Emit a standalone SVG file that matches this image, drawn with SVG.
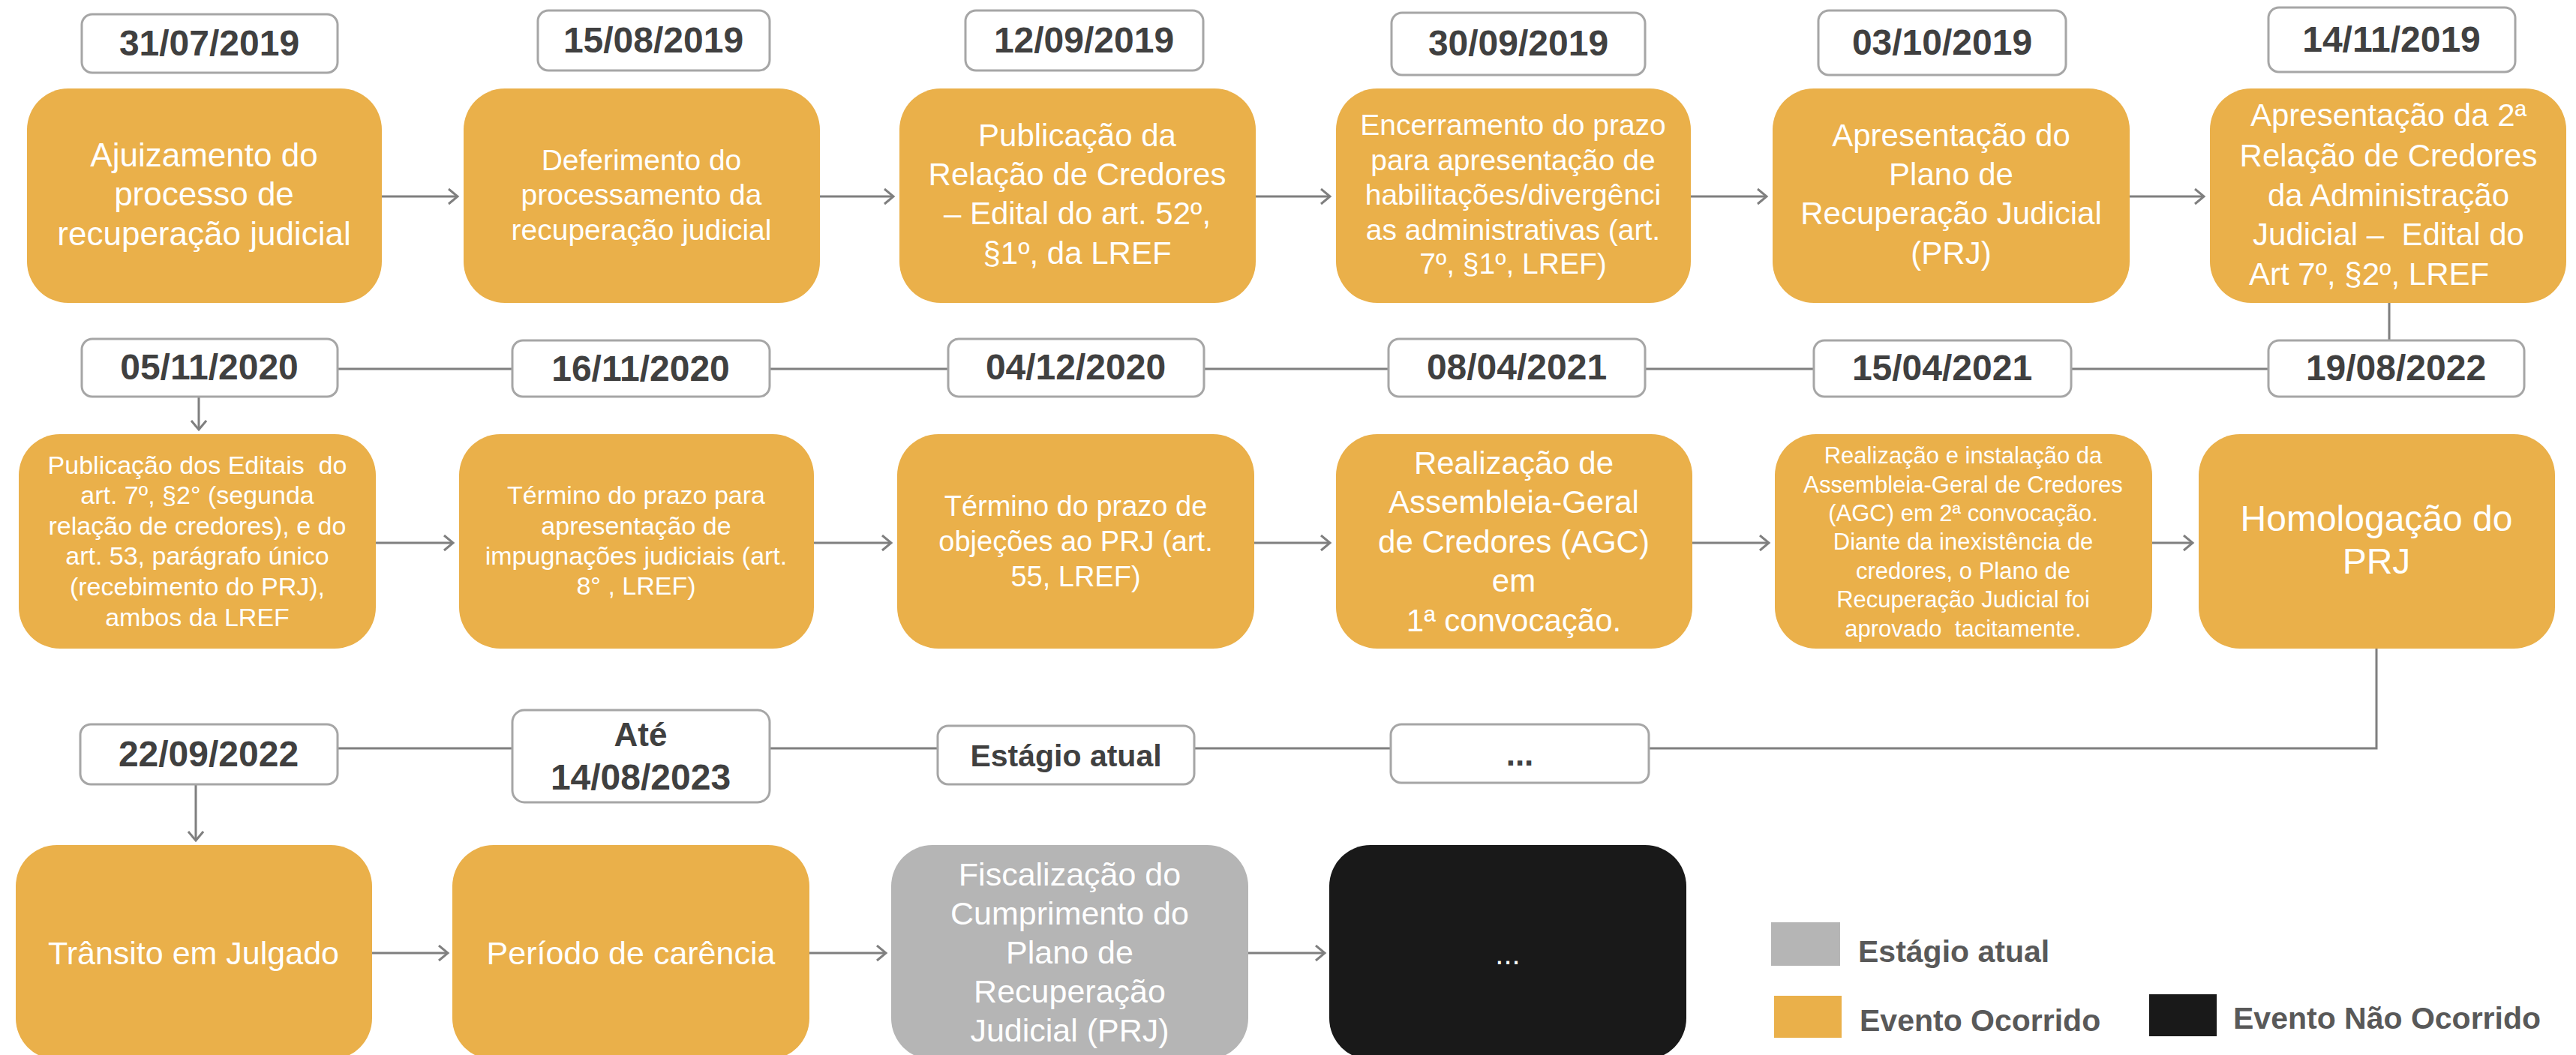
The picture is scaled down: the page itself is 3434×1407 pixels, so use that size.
<svg xmlns="http://www.w3.org/2000/svg" width="3434" height="1407" viewBox="0 0 3434 1407">
<style>
.node{fill:#EAB04A}
.cur{fill:#B5B5B5}
.nao{fill:#191919}
.date{fill:#FFFFFF;stroke:#A6A6A6;stroke-width:3}
.dt{font-family:"Liberation Sans",Arial,sans-serif;font-weight:bold;fill:#404040;text-anchor:middle}
.nt{font-family:"Liberation Sans",Arial,sans-serif;fill:#FFFFFF;text-anchor:middle}
.lg{font-family:"Liberation Sans",Arial,sans-serif;font-weight:bold;fill:#595959}
.con{fill:none;stroke:#7F7F7F;stroke-width:3}
</style>
<defs>
<marker id="arr" markerUnits="userSpaceOnUse" markerWidth="16" markerHeight="24" refX="13" refY="11" orient="auto">
<path d="M1,1 L13,11 L1,21" fill="none" stroke="#7F7F7F" stroke-width="3"/>
</marker>
</defs>
<rect width="3434" height="1407" fill="#FFFFFF"/>
<g id="connectors">
<path class="con" d="M509 262 H610" marker-end="url(#arr)"/>
<path class="con" d="M1093 262 H1191" marker-end="url(#arr)"/>
<path class="con" d="M1674 262 H1773" marker-end="url(#arr)"/>
<path class="con" d="M2254 262 H2355" marker-end="url(#arr)"/>
<path class="con" d="M2839 262 H2938" marker-end="url(#arr)"/>
<path class="con" d="M3185 404 V492 H265 V573" marker-end="url(#arr)"/>
<path class="con" d="M501 724 H604" marker-end="url(#arr)"/>
<path class="con" d="M1085 724 H1188" marker-end="url(#arr)"/>
<path class="con" d="M1672 724 H1773" marker-end="url(#arr)"/>
<path class="con" d="M2256 724 H2358" marker-end="url(#arr)"/>
<path class="con" d="M2869 724 H2923" marker-end="url(#arr)"/>
<path class="con" d="M3168 865 V998 H261 V1121" marker-end="url(#arr)"/>
<path class="con" d="M496 1271 H597" marker-end="url(#arr)"/>
<path class="con" d="M1079 1271 H1181" marker-end="url(#arr)"/>
<path class="con" d="M1664 1271 H1766" marker-end="url(#arr)"/>
</g>
<!-- Row 1 dates -->
<g id="d1"><rect class="date" x="109" y="19" width="341" height="78" rx="14"/><text class="dt" x="279" y="74" font-size="48">31/07/2019</text></g>
<g id="d2"><rect class="date" x="717" y="14" width="309" height="80" rx="14"/><text class="dt" x="871" y="70" font-size="48">15/08/2019</text></g>
<g id="d3"><rect class="date" x="1287" y="14" width="317" height="80" rx="14"/><text class="dt" x="1445" y="70" font-size="48">12/09/2019</text></g>
<g id="d4"><rect class="date" x="1855" y="17" width="338" height="83" rx="14"/><text class="dt" x="2024" y="74" font-size="48">30/09/2019</text></g>
<g id="d5"><rect class="date" x="2424" y="14" width="330" height="86" rx="14"/><text class="dt" x="2589" y="73" font-size="48">03/10/2019</text></g>
<g id="d6"><rect class="date" x="3024" y="10" width="329" height="86" rx="14"/><text class="dt" x="3188" y="69" font-size="48">14/11/2019</text></g>
<!-- Row 1 nodes -->
<g id="n1"><rect class="node" x="36" y="118" width="473" height="286" rx="55"/>
<text class="nt" font-size="44"><tspan x="272" y="222">Ajuizamento do</tspan><tspan x="272" y="274">processo de</tspan><tspan x="272" y="327">recuperação judicial</tspan></text></g>
<g id="n2"><rect class="node" x="618" y="118" width="475" height="286" rx="55"/>
<text class="nt" font-size="39"><tspan x="855" y="227">Deferimento do</tspan><tspan x="855" y="273">processamento da</tspan><tspan x="855" y="320">recuperação judicial</tspan></text></g>
<g id="n3"><rect class="node" x="1199" y="118" width="475" height="286" rx="55"/>
<text class="nt" font-size="42"><tspan x="1436" y="195">Publicação da</tspan><tspan x="1436" y="247">Relação de Credores</tspan><tspan x="1436" y="299">– Edital do art. 52º,</tspan><tspan x="1436" y="352">§1º, da LREF</tspan></text></g>
<g id="n4"><rect class="node" x="1781" y="118" width="473" height="286" rx="55"/>
<text class="nt" font-size="39"><tspan x="2017" y="180">Encerramento do prazo</tspan><tspan x="2017" y="227">para apresentação de</tspan><tspan x="2017" y="273">habilitações/divergênci</tspan><tspan x="2017" y="320">as administrativas (art.</tspan><tspan x="2017" y="365">7º, §1º, LREF)</tspan></text></g>
<g id="n5"><rect class="node" x="2363" y="118" width="476" height="286" rx="55"/>
<text class="nt" font-size="42"><tspan x="2601" y="195">Apresentação do</tspan><tspan x="2601" y="247">Plano de</tspan><tspan x="2601" y="299">Recuperação Judicial</tspan><tspan x="2601" y="352">(PRJ)</tspan></text></g>
<g id="n6"><rect class="node" x="2946" y="118" width="475" height="286" rx="55"/>
<text class="nt" font-size="42"><tspan x="3184" y="168">Apresentação da 2ª</tspan><tspan x="3184" y="222">Relação de Credores</tspan><tspan x="3184" y="275">da Administração</tspan><tspan x="3184" y="327">Judicial – &#160;Edital do</tspan></text>
<text class="nt" font-size="42" x="2998" y="380" style="text-anchor:start">Art 7º, §2º, LREF</text></g>
<!-- Row 2 dates -->
<g id="d7"><rect class="date" x="109" y="452" width="341" height="77" rx="14"/><text class="dt" x="279" y="506" font-size="48">05/11/2020</text></g>
<g id="d8"><rect class="date" x="683" y="454" width="343" height="75" rx="14"/><text class="dt" x="854" y="508" font-size="48">16/11/2020</text></g>
<g id="d9"><rect class="date" x="1264" y="452" width="341" height="77" rx="14"/><text class="dt" x="1434" y="506" font-size="48">04/12/2020</text></g>
<g id="d10"><rect class="date" x="1851" y="452" width="342" height="77" rx="14"/><text class="dt" x="2022" y="506" font-size="48">08/04/2021</text></g>
<g id="d11"><rect class="date" x="2418" y="454" width="343" height="75" rx="14"/><text class="dt" x="2589" y="507" font-size="48">15/04/2021</text></g>
<g id="d12"><rect class="date" x="3024" y="454" width="341" height="75" rx="14"/><text class="dt" x="3194" y="507" font-size="48">19/08/2022</text></g>
<!-- Row 2 nodes -->
<g id="n7"><rect class="node" x="25" y="579" width="476" height="286" rx="55"/>
<text class="nt" font-size="34"><tspan x="263" y="632">Publicação dos Editais &#160;do</tspan><tspan x="263" y="672">art. 7º, §2° (segunda</tspan><tspan x="263" y="713">relação de credores), e do</tspan><tspan x="263" y="753">art. 53, parágrafo único</tspan><tspan x="263" y="794">(recebimento do PRJ),</tspan><tspan x="263" y="835">ambos da LREF</tspan></text></g>
<g id="n8"><rect class="node" x="612" y="579" width="473" height="286" rx="55"/>
<text class="nt" font-size="34"><tspan x="848" y="672">Término do prazo para</tspan><tspan x="848" y="713">apresentação de</tspan><tspan x="848" y="753">impugnações judiciais (art.</tspan><tspan x="848" y="793">8° , LREF)</tspan></text></g>
<g id="n9"><rect class="node" x="1196" y="579" width="476" height="286" rx="55"/>
<text class="nt" font-size="38"><tspan x="1434" y="688">Término do prazo de</tspan><tspan x="1434" y="735">objeções ao PRJ (art.</tspan><tspan x="1434" y="782">55, LREF)</tspan></text></g>
<g id="n10"><rect class="node" x="1781" y="579" width="475" height="286" rx="55"/>
<text class="nt" font-size="42"><tspan x="2018" y="632">Realização de</tspan><tspan x="2018" y="684">Assembleia-Geral</tspan><tspan x="2018" y="737">de Credores (AGC)</tspan><tspan x="2018" y="789">em</tspan><tspan x="2018" y="842">1ª convocação.</tspan></text></g>
<g id="n11"><rect class="node" x="2366" y="579" width="503" height="286" rx="55"/>
<text class="nt" font-size="31"><tspan x="2617" y="618">Realização e instalação da</tspan><tspan x="2617" y="657">Assembleia-Geral de Credores</tspan><tspan x="2617" y="695">(AGC) em 2ª convocação.</tspan><tspan x="2617" y="733">Diante da inexistência de</tspan><tspan x="2617" y="772">credores, o Plano de</tspan><tspan x="2617" y="810">Recuperação Judicial foi</tspan><tspan x="2617" y="849">aprovado &#160;tacitamente.</tspan></text></g>
<g id="n12"><rect class="node" x="2931" y="579" width="475" height="286" rx="55"/>
<text class="nt" font-size="48"><tspan x="3168" y="708">Homologação do</tspan><tspan x="3168" y="765">PRJ</tspan></text></g>
<!-- Row 3 dates -->
<g id="d13"><rect class="date" x="107" y="966" width="343" height="80" rx="14"/><text class="dt" x="278" y="1022" font-size="48">22/09/2022</text></g>
<g id="d14"><rect class="date" x="683" y="947" width="343" height="123" rx="16"/><text class="dt" font-size="48"><tspan x="854" y="995" font-size="44">Até</tspan><tspan x="854" y="1053">14/08/2023</tspan></text></g>
<g id="d15"><rect class="date" x="1250" y="968" width="342" height="78" rx="14"/><text class="dt" x="1421" y="1022" font-size="41">Estágio atual</text></g>
<g id="d16"><rect class="date" x="1854" y="966" width="344" height="78" rx="14"/><text class="dt" x="2026" y="1021" font-size="44">...</text></g>
<!-- Row 3 nodes -->
<g id="n13"><rect class="node" x="21" y="1127" width="475" height="286" rx="55"/>
<text class="nt" x="258" y="1286" font-size="43">Trânsito em Julgado</text></g>
<g id="n14"><rect class="node" x="603" y="1127" width="476" height="286" rx="55"/>
<text class="nt" x="841" y="1286" font-size="43">Período de carência</text></g>
<g id="n15"><rect class="cur" x="1188" y="1127" width="476" height="286" rx="55"/>
<text class="nt" font-size="43"><tspan x="1426" y="1181">Fiscalização do</tspan><tspan x="1426" y="1233">Cumprimento do</tspan><tspan x="1426" y="1285">Plano de</tspan><tspan x="1426" y="1337">Recuperação</tspan><tspan x="1426" y="1389">Judicial (PRJ)</tspan></text></g>
<g id="n16"><rect class="nao" x="1772" y="1127" width="476" height="286" rx="55"/>
<text class="nt" x="2010" y="1286" font-size="40">...</text></g>
<!-- Legend -->
<g id="legend">
<rect x="2361" y="1230" width="92" height="58" fill="#B5B5B5"/>
<text class="lg" x="2477" y="1283" font-size="41">Estágio atual</text>
<rect x="2365" y="1328" width="90" height="56" fill="#EAB04A"/>
<text class="lg" x="2479" y="1375" font-size="41">Evento Ocorrido</text>
<rect x="2865" y="1326" width="90" height="56" fill="#191919"/>
<text class="lg" x="2977" y="1372" font-size="41">Evento Não Ocorrido</text>
</g>
</svg>
